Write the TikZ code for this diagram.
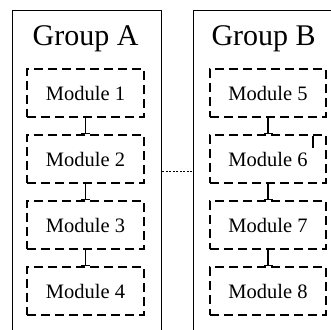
\documentclass[tikz,border=0pt]{standalone}
\usepackage{fontspec}
\setmainfont{Liberation Serif}
\usetikzlibrary{arrows.meta}
\begin{document}
\begin{tikzpicture}[x=1pt,y=-1pt,
  groupbox/.style={draw=black, line width=1.3pt, rectangle, anchor=north west,
    inner sep=0pt, minimum width=#1, minimum height=322pt},
  modbox/.style={draw=black, line width=1.2pt, dash pattern=on 9pt off 5pt,
    rectangle, minimum width=#1, minimum height=48pt, inner sep=0pt,
    font=\fontsize{20.5}{22}\selectfont},
  title/.style={font=\fontsize{30}{32}\selectfont, anchor=north},
  link/.style={draw=black, line width=1.2pt, -{Bar[width=9pt,line width=1.2pt]}},
  peer/.style={draw=black, line width=1pt, dash pattern=on 2pt off 1.5pt}
]
\useasboundingbox (0,0) rectangle (331,329);
\clip (0,0) rectangle (331,329);

% the two groups
\node[groupbox=149pt] (ga) at (12,10) {};
\node[groupbox=147pt] (gb) at (193,10) {};
\node[title] (ta) at ([xshift=-1.5pt,yshift=-12pt]ga.north) {Group A};
\node[title] (tb) at ([xshift=-3.5pt,yshift=-12pt]gb.north) {Group B};

% modules of group A
\node[modbox=117pt] (m1) at (85.5,93) {Module 1};
\node[modbox=117pt] (m2) at (85.5,159) {Module 2};
\node[modbox=117pt] (m3) at (85.5,225) {Module 3};
\node[modbox=117pt] (m4) at (85.5,291) {Module 4};

% modules of group B
\node[modbox=116pt] (m5) at (268,93) {Module 5};
\node[modbox=116pt] (m6) at (268,159) {Module 6};
\node[modbox=116pt] (m7) at (268,225) {Module 7};
\node[modbox=116pt] (m8) at (268,291) {Module 8};

% chains inside each group
\draw[link] (m1.south) -- (m2.north);
\draw[link] (m2.south) -- (m3.north);
\draw[link] (m3.south) -- (m4.north);
\draw[link] (m5.south) -- (m6.north);
\draw[link] (m6.south) -- (m7.north);
\draw[link] (m7.south) -- (m8.north);

% link between the groups
\draw[peer] (ga.east) -- (gb.west);

% small tick inside module 6
\coordinate (k1) at (313,136);
\coordinate (k2) at (313,148);
\draw[line width=1.2pt] (k1) -- (k2);
\end{tikzpicture}
\end{document}
